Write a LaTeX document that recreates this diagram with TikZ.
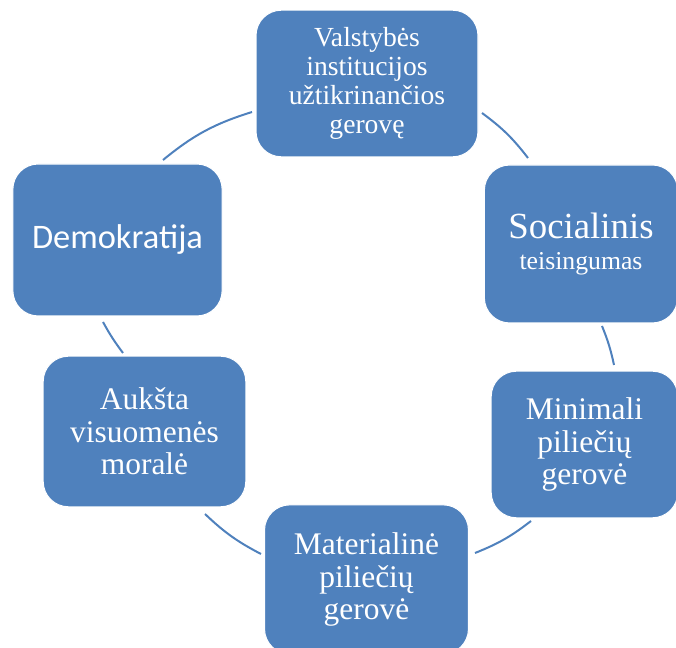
\documentclass[tikz,border=0pt]{standalone}
\usepackage{fontspec}
\setmainfont{Liberation Serif}
\newfontfamily\calibri{Carlito}
\usepackage{tikz}
\usetikzlibrary{positioning}
\definecolor{boxblue}{HTML}{4F81BD}

\begin{document}
\begin{tikzpicture}[x=0.75pt, y=-0.75pt,
  box/.style={fill=boxblue, draw=white, line width=0.8pt, rounded corners=19pt, text=white, align=center, inner sep=2pt},
  cyc/.style={draw=boxblue, line width=1.5pt}]
\useasboundingbox (0,0) rectangle (676,648);

% ノード(座標配置・すべて align=center)
\node[box, minimum width=166.5pt, minimum height=110pt, font=\fontsize{20.7}{21.6}\selectfont] (valst) at (367,83.5) {Valstybės\\institucijos\\užtikrinančios\\gerovę};
\node[box, minimum width=145pt, minimum height=118.5pt, font=\fontsize{19.3}{23}\selectfont] (social) at (581,244) {{\fontsize{27.6}{23}\selectfont Socialinis}\\teisingumas};
\node[box, minimum width=140pt, minimum height=110pt, font=\fontsize{23.6}{24.4}\selectfont] (minim) at (584.5,444.5) {Minimali\\piliečių\\gerovė};
\node[box, minimum width=153pt, minimum height=112pt, font=\fontsize{23.6}{24.4}\selectfont] (mater) at (366.5,579.5) {Materialinė\\piliečių\\gerovė};
\node[box, minimum width=152pt, minimum height=113pt, font=\fontsize{23.6}{24.4}\selectfont] (moral) at (144.5,431.5) {Aukšta\\visuomenės\\moralė};
\node[box, minimum width=157pt, minimum height=114pt, font=\calibri\fontsize{25.8}{27}\selectfont] (demo) at (117.5,240) {Demokratija};

% 円弧の端点
\coordinate (p1a) at (163,160);
\coordinate (p1b) at (252,112);
\coordinate (p2a) at (482,113);
\coordinate (p2b) at (528,158);
\coordinate (p3a) at (602,326);
\coordinate (p3b) at (614,365);
\coordinate (p4a) at (531,521);
\coordinate (p4b) at (475,553);
\coordinate (p5a) at (261,554);
\coordinate (p5b) at (205,514);
\coordinate (p6a) at (123,353);
\coordinate (p6b) at (103,322);

% 円弧
\draw[cyc] (p1a) to[bend left=11] (p1b);
\draw[cyc] (p2a) to[bend left=8] (p2b);
\draw[cyc] (p3a) to[bend left=5] (p3b);
\draw[cyc] (p4a) to[bend left=8] (p4b);
\draw[cyc] (p5a) to[bend left=8] (p5b);
\draw[cyc] (p6a) to[bend left=4] (p6b);
\end{tikzpicture}
\end{document}
